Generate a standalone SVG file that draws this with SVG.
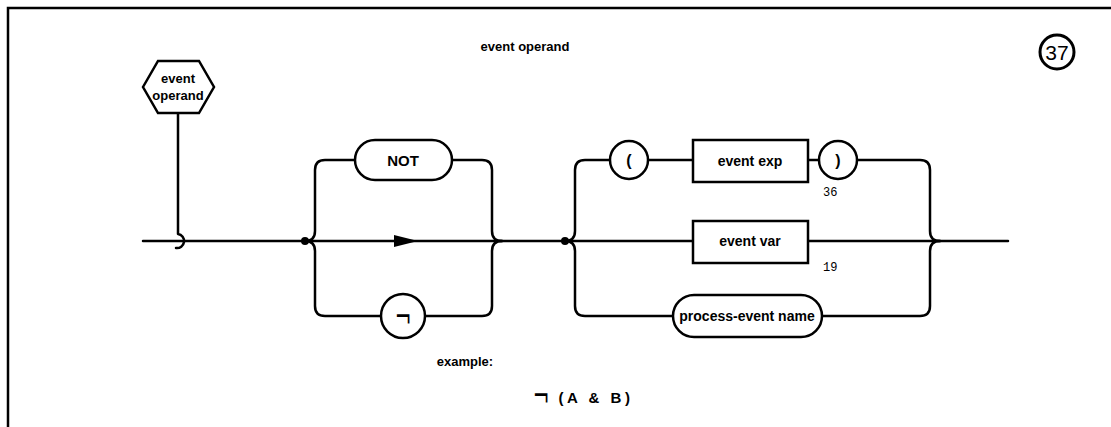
<svg xmlns="http://www.w3.org/2000/svg" width="1111" height="427" viewBox="0 0 1111 427">
<defs>
<style>
.ln{fill:none;stroke:#000;stroke-width:2.5;stroke-linecap:round;stroke-linejoin:round}
.sh{fill:#fff;stroke:#000;stroke-width:2.5}
.t{font-family:"Liberation Sans",Arial,sans-serif;font-weight:bold;font-size:14px;fill:#000;text-anchor:middle}
.neg{font-family:"DejaVu Sans","Liberation Sans",sans-serif;font-size:20px;fill:#000;text-anchor:middle}
.ref{font-family:"Liberation Mono","Courier New",monospace;font-size:12px;fill:#000}
</style>
</defs>
<rect width="1111" height="427" fill="#fff"/>
<g id="frame">
<path d="M8,427 V8 H1111" fill="none" stroke="#000" stroke-width="2.5"/>
</g>
<g id="title"><text class="t" x="525" y="51" style="font-size:13px">event operand</text></g>
<g id="number">
<circle cx="1057" cy="52" r="17" fill="none" stroke="#000" stroke-width="3"/>
<text x="1057" y="60" style="font-family:'Liberation Sans',Arial,sans-serif;font-size:21px;text-anchor:middle">37</text>
</g>
<g id="connectors">
<path class="ln" d="M178,113 V234 A7,7 0 1 1 176,248"/>
<path class="ln" d="M143,241 H1008"/>
<circle cx="305" cy="241" r="4"/>
<circle cx="565" cy="241" r="4"/>
<path d="M394,235 L418,241 L394,247 Z"/>
<path class="ln" d="M305,241 Q315,241 315,231 V170 Q315,160 325,160 H355"/>
<path class="ln" d="M452,160 H482 Q492,160 492,170 V231 Q492,241 502,241"/>
<path class="ln" d="M305,241 Q315,241 315,251 V306 Q315,316 325,316 H381"/>
<path class="ln" d="M425,316 H482 Q492,316 492,306 V251 Q492,241 502,241"/>
<path class="ln" d="M565,241 Q575,241 575,231 V170 Q575,160 585,160 H610"/>
<path class="ln" d="M648,160 H693"/>
<path class="ln" d="M808,160 H820"/>
<path class="ln" d="M857,160 H920 Q930,160 930,170 V231 Q930,241 940,241"/>
<path class="ln" d="M565,241 Q575,241 575,251 V306 Q575,316 585,316 H673"/>
<path class="ln" d="M822,316 H920 Q930,316 930,306 V251 Q930,241 940,241"/>
</g>
<g id="start"><path class="sh" d="M143,87 L158,61 H199 L214,87 L199,113 H158 Z"/><text class="t" x="178" y="83" style="font-size:13px">event</text><text class="t" x="178" y="100" style="font-size:13px">operand</text></g>
<g id="not"><rect class="sh" x="355" y="140" width="97" height="40" rx="20"/><text class="t" x="403" y="166" style="font-size:15px">NOT</text></g>
<g id="neg"><circle class="sh" cx="403" cy="316" r="22"/><text class="neg" transform="translate(403,316) scale(1,1.7)" x="0" y="7">¬</text></g>
<g id="lparen"><circle class="sh" cx="629" cy="160" r="19"/><text class="t" x="629" y="166" style="font-size:16px">(</text></g>
<g id="eventexp"><rect class="sh" x="693" y="140" width="115" height="42"/><text class="t" x="750" y="166">event exp</text><text class="ref" x="823" y="196">36</text></g>
<g id="rparen"><circle class="sh" cx="838" cy="160" r="19"/><text class="t" x="838" y="166" style="font-size:16px">)</text></g>
<g id="eventvar"><rect class="sh" x="693" y="221" width="115" height="42"/><text class="t" x="750" y="246">event var</text><text class="ref" x="823" y="271">19</text></g>
<g id="pename"><rect class="sh" x="673" y="295" width="149" height="42" rx="21"/><text class="t" x="747" y="321">process-event name</text></g>
<g id="example">
<text class="t" x="465" y="366" style="font-size:13px">example:</text>
<text class="neg" transform="translate(541,396) scale(1,1.6)" x="0" y="7">¬</text>
<text class="t" x="596" y="403" style="font-size:15px;letter-spacing:3.5px">(A &amp; B)</text>
</g>
</svg>
